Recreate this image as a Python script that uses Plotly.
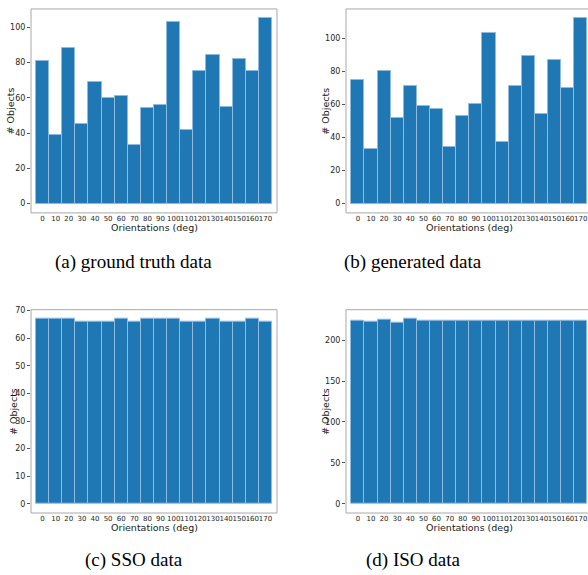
import plotly.graph_objects as go

W, H = 588, 575

orientations = list(range(0, 180, 10))
tick_labels = [str(v) for v in orientations]

ground_truth = [81, 39, 88, 45, 69, 60, 61, 33, 54, 56, 103, 42, 75, 84, 55, 82, 75, 105]
generated = [75, 33, 80, 52, 71, 59, 57, 34, 53, 60, 103, 37, 71, 89, 54, 87, 70, 112]
sso = [67, 67, 67, 66, 66, 66, 67, 66, 67, 67, 67, 66, 66, 67, 66, 66, 67, 66]
iso = [224, 223, 225, 222, 226, 224, 224, 224, 224, 224, 224, 224, 224, 224, 224, 224, 224, 224]

captions = ["(a) ground truth data", "(b) generated data", "(c) SSO data", "(d) ISO data"]
series = [ground_truth, generated, sso, iso]
ytick_sets = [list(range(0, 101, 20)), list(range(0, 101, 20)), list(range(0, 71, 10)), list(range(0, 201, 50))]

# panel pixel geometry: (left, right, top, bottom) of frame
frames = [(31, 277, 6, 211), (346, 592, 6, 211), (31, 277, 308.3, 512.7), (346, 592, 308.3, 512.7)]
# bar extent left pixel
bar_left = [36, 351.3, 36, 351.3]
px_per_unit = 236 / 180.0

fig = go.Figure()
shapes = []
annotations = []
TICKFONT = dict(family="DejaVu Sans", size=7, color="#262626")
YTICKFONT = dict(family="DejaVu Sans", size=8, color="#262626")
TITLEFONT = dict(family="DejaVu Sans", size=9.5, color="#1a1a1a")

for i, vals in enumerate(series):
    n = i + 1
    xa = "x" if n == 1 else f"x{n}"
    ya = "y" if n == 1 else f"y{n}"
    l, r, t, b = frames[i]
    r_clip = min(r, W)
    fig.add_trace(go.Bar(
        x=orientations, y=vals, width=10,
        marker=dict(color="#1f77b4", line=dict(color="#8fbbe0", width=1)),
        xaxis=xa, yaxis=ya, showlegend=False,
    ))
    x0 = -5 - (bar_left[i] - l) / px_per_unit
    x1 = x0 + (r_clip - l) / px_per_unit
    m = max(vals)
    yr = [-0.05 * m, 1.05 * m]
    xkey = "xaxis" if n == 1 else f"xaxis{n}"
    ykey = "yaxis" if n == 1 else f"yaxis{n}"
    fig.layout[xkey] = dict(
        domain=[l / W, r_clip / W], range=[x0, x1], anchor=ya,
        tickmode="array", tickvals=orientations, ticktext=tick_labels,
        tickangle=0, tickfont=TICKFONT, showgrid=False, zeroline=False,
        showline=False, ticks="", fixedrange=True, ticklabeloverflow="allow",
    )
    fig.layout[ykey] = dict(
        domain=[1 - b / H, 1 - t / H], range=yr, anchor=xa,
        tickmode="array", tickvals=ytick_sets[i], ticktext=[str(v) for v in ytick_sets[i]],
        tickfont=YTICKFONT, showgrid=False, zeroline=False, showline=False,
        ticks="outside", ticklen=3, tickcolor="#555", tickwidth=1, fixedrange=True,
    )
    dom_w = r_clip - l
    shapes.append(dict(type="rect", xref=f"{xa} domain", yref=f"{ya} domain",
                       x0=0, x1=(r - l) / dom_w, y0=0, y1=1,
                       line=dict(color="#a8a8a8", width=1), layer="above"))
    cx = (l + r) / 2
    annotations.append(dict(text="Orientations (deg)", x=cx / W, y=1 - (b + 15) / H,
                            xref="paper", yref="paper", showarrow=False, font=TITLEFONT,
                            xanchor="center", yanchor="middle"))
    ytx = [10.5, 325.7, 13.7, 325.7][i]
    annotations.append(dict(text="# Objects", x=ytx / W, y=1 - ((t + b) / 2) / H,
                            xref="paper", yref="paper", showarrow=False, font=TITLEFONT,
                            textangle=-90, xanchor="center", yanchor="middle"))
    capx = [133, 413, 134, 413][i]
    capy = [260, 260, 560, 560][i]
    annotations.append(dict(text=captions[i], x=capx / W, y=1 - capy / H,
                            xref="paper", yref="paper", showarrow=False,
                            font=dict(family="Liberation Serif", size=19, color="#000"),
                            xanchor="center", yanchor="middle"))

fig.update_layout(
    width=W, height=H, margin=dict(l=0, r=0, t=0, b=0),
    paper_bgcolor="white", plot_bgcolor="white",
    bargap=0, shapes=shapes, annotations=annotations,
)

fig.write_html(
    "out.html",
    config={"displayModeBar": False},
    post_script="document.body.style.margin='0';document.body.style.overflow='hidden';",
)
